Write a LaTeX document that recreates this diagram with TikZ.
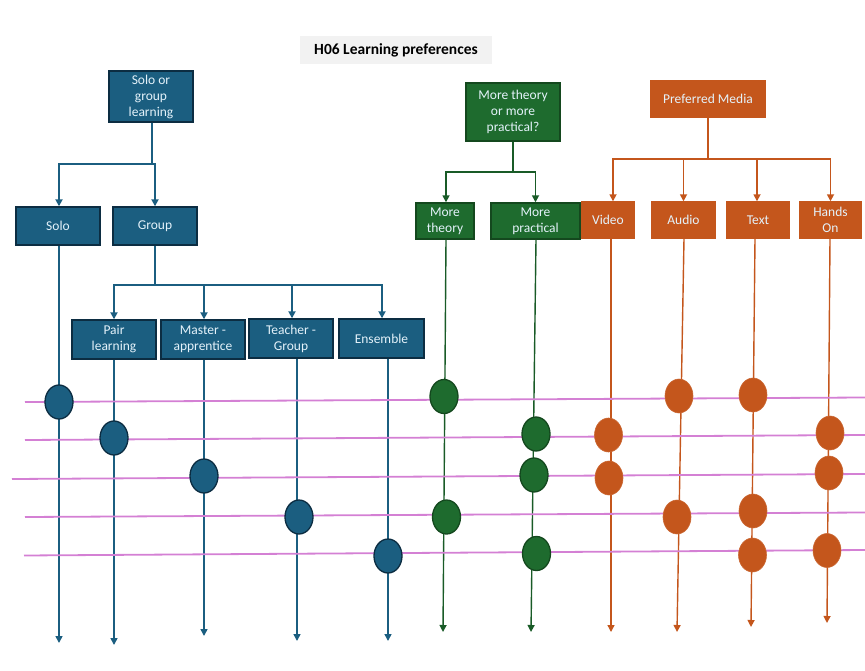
\documentclass[tikz,border=0pt]{standalone}
\usepackage{fontspec}
\setmainfont{Carlito}
\usetikzlibrary{shapes.geometric,arrows.meta}
\definecolor{bfill}{RGB}{27,94,128}
\definecolor{bdraw}{RGB}{12,45,66}
\definecolor{gfill}{RGB}{30,107,46}
\definecolor{gdraw}{RGB}{20,72,30}
\definecolor{ofill}{RGB}{196,86,28}
\definecolor{pinkl}{RGB}{212,128,212}
\definecolor{tgray}{RGB}{242,242,242}
\definecolor{btext}{RGB}{228,242,250}
\tikzset{
  bx/.style={rectangle, inner sep=0pt, align=center, text=btext,
    font=\fontsize{13.5}{16}\selectfont, line width=1.4pt},
  bbox/.style={bx, fill=bfill, draw=bdraw},
  gbox/.style={bx, fill=gfill, draw=gdraw},
  obox/.style={bx, fill=ofill, draw=ofill},
  bl/.style={draw=bfill, line width=1.8pt},
  gl/.style={draw=gfill!85!black, line width=1.6pt},
  ol/.style={draw=ofill, line width=1.6pt},
  tip/.style={-{Triangle[width=7pt,length=7pt]}},
  pk/.style={draw=pinkl, line width=1.8pt},
  dot/.style={ellipse, inner sep=0pt, minimum width=28pt, minimum height=34pt},
  bdot/.style={dot, fill=bfill, draw=bdraw, line width=1.3pt},
  gdot/.style={dot, fill=gfill, draw=gdraw, line width=1.3pt},
  odot/.style={dot, fill=ofill, draw=ofill!90!white, line width=0.6pt},
}
\begin{document}
\begin{tikzpicture}[x=1pt,y=-1pt]
\useasboundingbox (0,0) rectangle (865,671);
% title
\node[fill=tgray, minimum width=192pt, minimum height=28pt, inner sep=0pt,
  font=\fontsize{15.5}{17}\selectfont\bfseries] (title) at (396,50) {H06 Learning preferences};

% blue boxes
\node[bbox, minimum width=84pt, minimum height=51pt] (sg) at (151,96.5) {Solo or\\group\\learning};
\node[bbox, minimum width=84pt, minimum height=38pt] (solo) at (58,226) {Solo};
\node[bbox, minimum width=84pt, minimum height=38pt] (grp) at (155,226) {Group};
\node[bbox, minimum width=84pt, minimum height=39pt] (pair) at (114,339.5) {Pair\\learning};
\node[bbox, minimum width=84pt, minimum height=39pt] (mast) at (203,339.5) {Master -\\apprentice};
\node[bbox, minimum width=84pt, minimum height=39pt] (teach) at (291,338.5) {Teacher -\\Group};
\node[bbox, minimum width=85pt, minimum height=39pt] (ens) at (381.5,338.5) {Ensemble};

% green boxes
\node[gbox, minimum width=94pt, minimum height=58pt] (mtp) at (513,112) {More theory\\or more\\practical?};
\node[gbox, minimum width=58pt, minimum height=36pt] (mt) at (445,221) {More\\theory};
\node[gbox, minimum width=89pt, minimum height=36pt] (mp) at (535.5,221) {More\\practical};

% orange boxes
\node[obox, minimum width=114pt, minimum height=36pt] (pm) at (708,99) {Preferred Media};
\node[obox, minimum width=52pt, minimum height=36pt] (vid) at (608,220) {Video};
\node[obox, minimum width=63pt, minimum height=36pt] (aud) at (683.5,220) {Audio};
\node[obox, minimum width=62pt, minimum height=36pt] (txt) at (758,220) {Text};
\node[obox, minimum width=61pt, minimum height=36pt] (hand) at (830.5,220) {Hands\\On};

% junctions
\coordinate (sgj) at (152,164);
\coordinate (grj) at (155,285);
\coordinate (mtj) at (513,172);
\coordinate (pmj) at (708,159);

% tree connectors
\draw[bl] ([xshift=1pt]sg.south) -- (sgj);
\draw[bl,tip] (sgj) -| ([xshift=1pt]solo.north);
\draw[bl,tip] (sgj) -| (grp.north);
\draw[bl] (grp.south) -- (grj);
\draw[bl,tip] (grj) -| (pair.north);
\draw[bl,tip] (grj) -| ([xshift=1pt]mast.north);
\draw[bl,tip] (grj) -| ([xshift=1pt]teach.north);
\draw[bl,tip] (grj) -| ([xshift=0.5pt]ens.north);

\draw[gl] (mtp.south) -- (mtj);
\draw[gl,tip] (mtj) -| ([xshift=1pt]mt.north);
\draw[gl,tip] (mtj) -| (mp.north);

\draw[ol,line width=2.2pt] (pm.south) -- (pmj);
\draw[ol,tip] (pmj) -| ([xshift=5pt]vid.north);
\draw[ol,tip] (pmj) -| (aud.north);
\draw[ol,tip] (pmj) -| ([xshift=-1pt]txt.north);
\draw[ol,tip] (pmj) -| (hand.north);

% long vertical arrows
\coordinate (e1) at (59,643);
\coordinate (e2) at (114,645);
\coordinate (e3) at (204,636);
\coordinate (e4) at (297,641);
\coordinate (e5) at (388,641);
\coordinate (e6) at (443,632);
\coordinate (e7) at (531,632);
\coordinate (e8) at (611,632);
\coordinate (e9) at (677,632);
\coordinate (e10) at (751,627);
\coordinate (e11) at (827,623);
\draw[bl,line width=1.6pt,tip] ([xshift=1pt]solo.south) -- (e1);
\draw[bl,line width=1.6pt,tip] (pair.south) -- (e2);
\draw[bl,line width=1.6pt,tip] ([xshift=1pt]mast.south) -- (e3);
\draw[bl,line width=1.6pt,tip] ([xshift=6pt]teach.south) -- (e4);
\draw[bl,line width=1.6pt,tip] ([xshift=6.5pt]ens.south) -- (e5);
\draw[gl,line width=1.4pt,tip] ([xshift=1pt]mt.south) -- (e6);
\draw[gl,line width=1.4pt,tip] ([xshift=0.5pt]mp.south) -- (e7);
\draw[ol,line width=1.4pt,tip] ([xshift=3pt]vid.south) -- (e8);
\draw[ol,line width=1.4pt,tip] ([xshift=0.5pt]aud.south) -- (e9);
\draw[ol,line width=1.4pt,tip] ([xshift=-3pt]txt.south) -- (e10);
\draw[ol,line width=1.4pt,tip] ([xshift=-0.5pt]hand.south) -- (e11);

% pink lines
\coordinate (p1a) at (25,402);  \coordinate (p1b) at (865,397.5);
\coordinate (p2a) at (25,440);  \coordinate (p2b) at (865,435);
\coordinate (p3a) at (12,479);  \coordinate (p3b) at (865,474);
\coordinate (p4a) at (25,517);  \coordinate (p4b) at (865,512.5);
\coordinate (p5a) at (24,555.5);\coordinate (p5b) at (865,550);
\draw[pk] (p1a) -- (p1b);
\draw[pk] (p2a) -- (p2b);
\draw[pk] (p3a) -- (p3b);
\draw[pk] (p4a) -- (p4b);
\draw[pk] (p5a) -- (p5b);

% dots
\node[bdot] (b1) at (59,402) {};
\node[bdot] (b2) at (114,438) {};
\node[bdot] (b3) at (204,476) {};
\node[bdot] (b4) at (299,517) {};
\node[bdot] (b5) at (388,556) {};

\node[gdot] (g1) at (444,396.5) {};
\node[gdot] (g2) at (446.5,517) {};
\node[gdot] (g3) at (536,434) {};
\node[gdot] (g4) at (534,475) {};
\node[gdot] (g5) at (536.5,553.5) {};

\node[odot] (o1) at (608.5,435) {};
\node[odot] (o2) at (609,478) {};
\node[odot] (o3) at (679,396) {};
\node[odot] (o4) at (677,517) {};
\node[odot] (o5) at (753,395) {};
\node[odot] (o6) at (753,511) {};
\node[odot] (o7) at (752.5,555) {};
\node[odot] (o8) at (830,433) {};
\node[odot] (o9) at (829,473) {};
\node[odot] (o10) at (827,550.5) {};
\end{tikzpicture}
\end{document}
